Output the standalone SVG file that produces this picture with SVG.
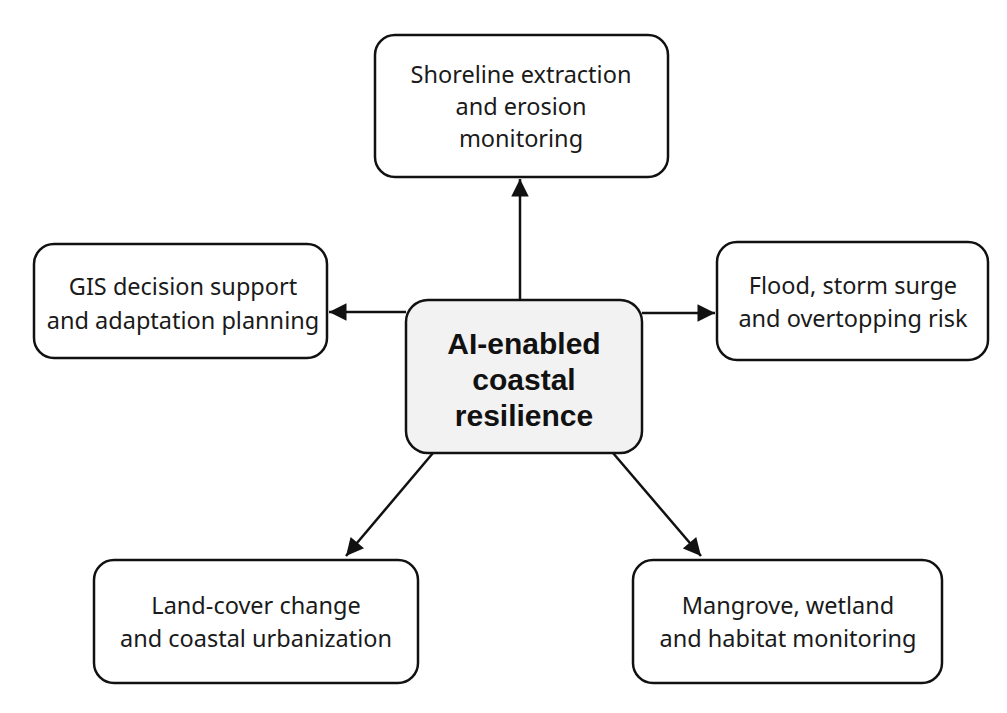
<svg xmlns="http://www.w3.org/2000/svg" width="1007" height="713" viewBox="0 0 1007 713">
<defs>
<marker id="arr" viewBox="0 0 10 10" refX="10" refY="5" markerWidth="7.5" markerHeight="7" markerUnits="strokeWidth" orient="auto">
<path d="M0,0 L10,5 L0,10 z" fill="#111"/>
</marker>
<style>
.box{fill:#fff;stroke:#111;stroke-width:2.5}
.hub{fill:#f2f2f2;stroke:#111;stroke-width:2.5}
.t{font-family:"Noto Sans","Liberation Sans",sans-serif;font-size:23.5px;fill:#1a1a1a;text-anchor:middle}
.tb{font-family:"Liberation Sans",Arial,sans-serif;font-size:30px;font-weight:bold;fill:#111;text-anchor:middle}
.c{stroke:#111;stroke-width:2.5;fill:none;marker-end:url(#arr)}
</style>
</defs>
<rect width="1007" height="713" fill="#fff"/>
<g id="connectors">
<line class="c" x1="520" y1="300" x2="520" y2="179"/>
<line class="c" x1="406" y1="312" x2="329" y2="312"/>
<line class="c" x1="642" y1="313" x2="715" y2="313"/>
<line class="c" x1="433" y1="453" x2="346" y2="556"/>
<line class="c" x1="613" y1="453" x2="701" y2="556"/>
</g>
<g id="hub">
<rect class="hub" x="406" y="300" width="236" height="153" rx="22"/>
<text class="tb" x="524" y="354">AI-enabled</text>
<text class="tb" x="524" y="390">coastal</text>
<text class="tb" x="524" y="426">resilience</text>
</g>
<g id="shoreline">
<rect class="box" x="375" y="35" width="293" height="142" rx="20"/>
<text class="t" x="521" y="83">Shoreline extraction</text>
<text class="t" x="521" y="115">and erosion</text>
<text class="t" x="521" y="147">monitoring</text>
</g>
<g id="gis">
<rect class="box" x="34" y="244" width="293" height="114" rx="20"/>
<text class="t" x="183" y="295">GIS decision support</text>
<text class="t" x="183" y="329">and adaptation planning</text>
</g>
<g id="flood">
<rect class="box" x="717" y="242" width="271" height="118" rx="20"/>
<text class="t" x="853" y="294">Flood, storm surge</text>
<text class="t" x="853" y="327">and overtopping risk</text>
</g>
<g id="landcover">
<rect class="box" x="94" y="560" width="324" height="123" rx="20"/>
<text class="t" x="256" y="614">Land-cover change</text>
<text class="t" x="256" y="647">and coastal urbanization</text>
</g>
<g id="mangrove">
<rect class="box" x="633" y="560" width="309" height="123" rx="20"/>
<text class="t" x="788" y="614">Mangrove, wetland</text>
<text class="t" x="788" y="647">and habitat monitoring</text>
</g>
</svg>
